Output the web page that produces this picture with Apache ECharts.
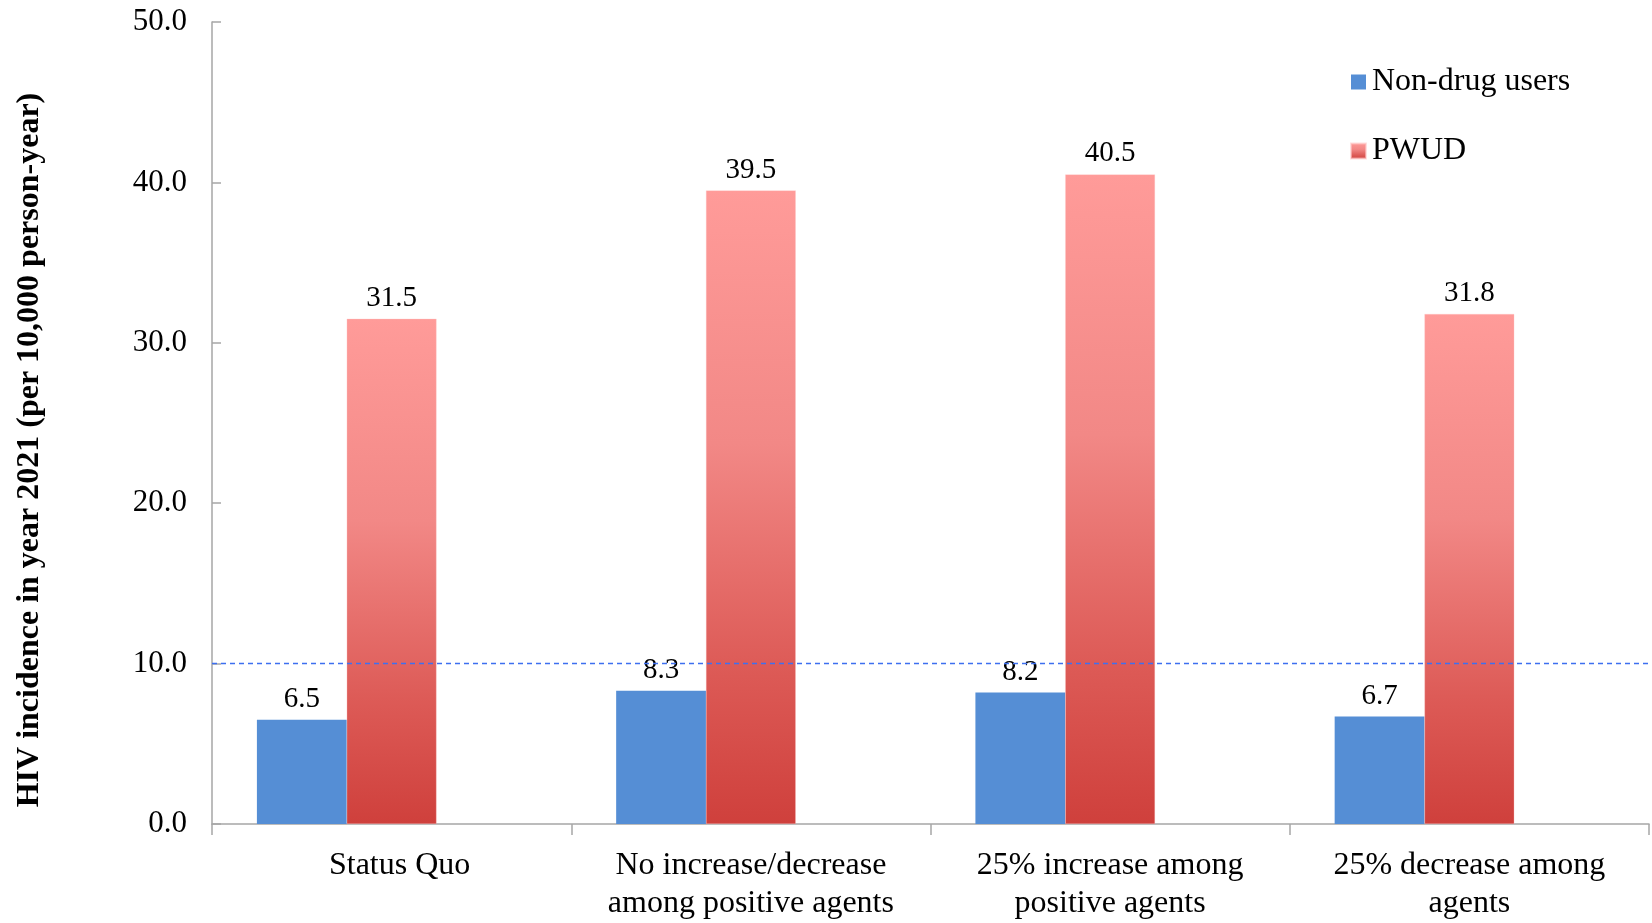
<!DOCTYPE html>
<html>
<head>
<meta charset="utf-8">
<title>HIV incidence in year 2021</title>
<script src="https://cdn.jsdelivr.net/npm/echarts@6/dist/echarts.min.js"></script>
<style>
  html, body { margin: 0; padding: 0; background: #ffffff; }
  #chart { width: 1652px; height: 923px; }
</style>
</head>
<body>
<div id="chart"></div>
<script>
// Scenario categories along the x axis
const categories = [
  'Status Quo',
  'No increase/decrease\namong positive agents',
  '25% increase among\npositive agents',
  '25% decrease among\nagents'
];

// HIV incidence per 10,000 person-years, year 2021
const nonDrugUsers = [6.5, 8.3, 8.2, 6.7];
const pwud = [31.5, 39.5, 40.5, 31.8];

// Reference threshold drawn as a dashed line
const threshold = 10;

// Y axis range
const yMin = 0, yMax = 50, yStep = 10;

const serif = '"Liberation Serif", "Times New Roman", serif';

const chart = echarts.init(document.getElementById('chart'), null, { renderer: 'canvas' });

const valueLabel = {
  show: true,
  position: 'top',
  distance: 6,
  fontFamily: serif,
  fontSize: 29,
  color: '#000',
  formatter: p => p.value.toFixed(1)
};

// the first category label sits slightly right of its band centre
const categoryData = categories.map((c, i) =>
  i === 0 ? { value: c, textStyle: { padding: [0, 0, 0, 16] } } : c
);

chart.setOption({
  animation: false,
  backgroundColor: '#ffffff',
  textStyle: { fontFamily: serif },
  grid: { left: 212, right: 3, top: 22, bottom: 95, containLabel: false },
  legend: {
    data: ['Non-drug users', 'PWUD'],
    orient: 'vertical',
    left: 1345,
    top: 61,
    itemWidth: 15,
    itemHeight: 15,
    itemGap: 37,
    icon: 'rect',
    textStyle: { fontFamily: serif, fontSize: 32, color: '#000', padding: [0, 0, 0, 1] }
  },
  xAxis: {
    type: 'category',
    data: categoryData,
    axisLine: { lineStyle: { color: '#a6a6a6', width: 1.5 } },
    axisTick: { show: true, alignWithLabel: false, length: 11, lineStyle: { color: '#a6a6a6', width: 1.5 } },
    axisLabel: { fontFamily: serif, fontSize: 32, lineHeight: 38, color: '#000', margin: 23, interval: 0 }
  },
  yAxis: {
    type: 'value',
    min: yMin,
    max: yMax,
    interval: yStep,
    name: 'HIV incidence in year 2021 (per 10,000 person-year)',
    nameLocation: 'middle',
    nameGap: 166,
    nameTextStyle: {
      fontFamily: serif, fontSize: 32, fontWeight: 'bold', color: '#000',
      padding: [0, 54, 0, 0]
    },
    axisLine: { show: true, lineStyle: { color: '#a6a6a6', width: 1.5 } },
    axisTick: { show: true, inside: true, length: 9, lineStyle: { color: '#a6a6a6', width: 1.5 } },
    splitLine: { show: false },
    axisLabel: {
      fontFamily: serif, fontSize: 31, color: '#000', margin: 25,
      formatter: v => v.toFixed(1)
    }
  },
  series: [
    {
      name: 'Non-drug users',
      type: 'bar',
      data: nonDrugUsers,
      barGap: '0%',
      barCategoryGap: '25%',
      itemStyle: { color: '#558ed5' },
      label: valueLabel,
      markLine: {
        silent: true,
        symbol: ['none', 'none'],
        label: { show: false },
        lineStyle: { color: '#3d6ff0', type: [5, 4], width: 1.3, opacity: 1 },
        emphasis: { disabled: true },
        data: [{ yAxis: threshold }]
      }
    },
    {
      name: 'PWUD',
      type: 'bar',
      data: pwud,
      barGap: '0%',
      barCategoryGap: '25%',
      itemStyle: {
        color: new echarts.graphic.LinearGradient(0, 0, 0, 1, [
          { offset: 0, color: '#ff9b99' },
          { offset: 0.4, color: '#f28886' },
          { offset: 0.75, color: '#dd5b57' },
          { offset: 1, color: '#cf403c' }
        ]),
        borderColor: 'rgba(255,200,200,0.6)',
        borderWidth: 0.5
      },
      label: valueLabel
    },
    {
      // empty third slot in each category group
      name: 'slot',
      type: 'bar',
      data: [],
      barGap: '0%',
      barCategoryGap: '25%'
    }
  ]
});
</script>
</body>
</html>
